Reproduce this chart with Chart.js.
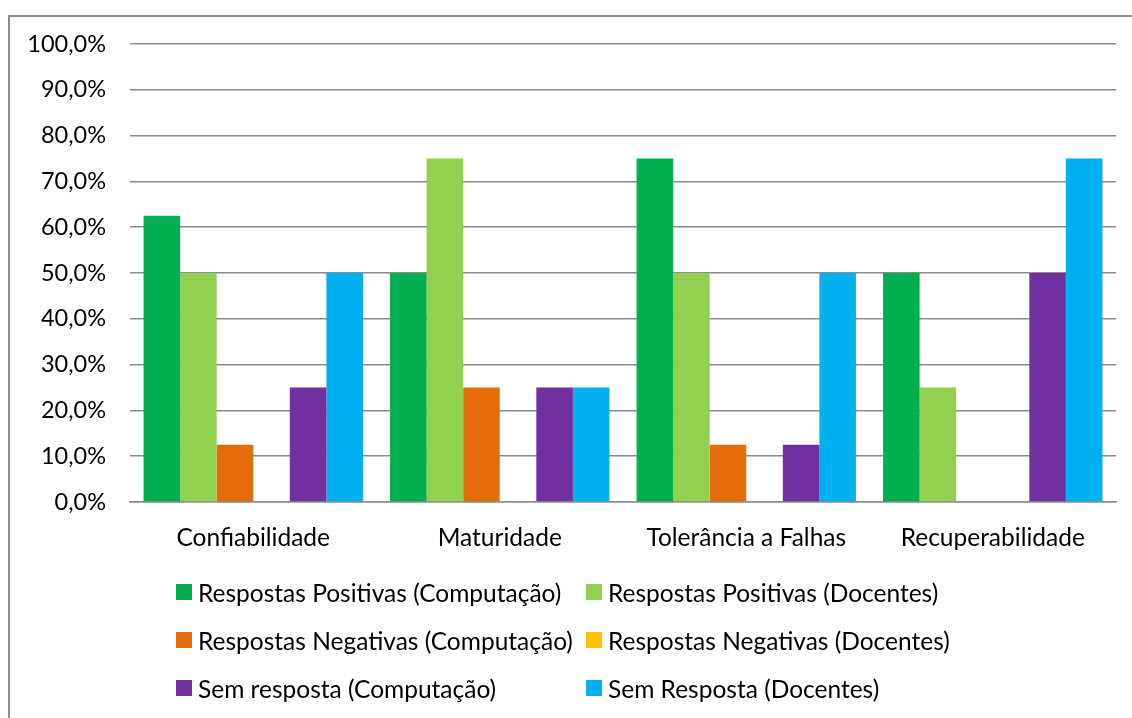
<!DOCTYPE html>
<html>
<head>
<meta charset="utf-8">
<script src="https://cdn.jsdelivr.net/npm/chart.js@4.4.0/dist/chart.umd.min.js"></script>
<style>
	html, body { margin: 0; padding: 0; background: #fff; overflow: hidden; }
	#wrap { position: relative; width: 1132px; height: 718px; overflow: hidden; }
	#frame { position: absolute; left: 8px; top: 15px; width: 1200px; height: 800px; border: 2px solid #8c8c8c; box-sizing: border-box; }
	#mycanvas { position: absolute; left: 0; top: 0; }
	#legend { position: absolute; left: 0; top: 0; font-family: Lato, "Open Sans", sans-serif; font-size: 24.5px; color: #000; }
	.item { position: absolute; white-space: nowrap; height: 30px; display: flex; align-items: center; }
	.box { display: inline-block; width: 16px; height: 16px; margin-right: 6px; }
</style>
</head>
<body>
<div id="wrap">
	<div id="frame"></div>
	<canvas id="mycanvas" width="1132" height="718"></canvas>
	<div id="legend"></div>
</div>
<script>
var categories = ['Confiabilidade', 'Maturidade', 'Tolerância a Falhas', 'Recuperabilidade'];
var seriesNames = [
	'Respostas Positivas (Computação)',
	'Respostas Positivas (Docentes)',
	'Respostas Negativas (Computação)',
	'Respostas Negativas (Docentes)',
	'Sem resposta (Computação)',
	'Sem Resposta (Docentes)'
];
var positivasComp = [62.5, 50, 75, 50];
var positivasDoc = [50, 75, 50, 25];
var negativasComp = [12.5, 25, 12.5, 0];
var negativasDoc = [0, 0, 0, 0];
var semRespComp = [25, 25, 12.5, 50];
var semRespDoc = [50, 25, 50, 75];
var colors = ['#00B050', '#92D050', '#E46C0A', '#FFC000', '#7030A0', '#00B0F0'];

var values = [positivasComp, positivasDoc, negativasComp, negativasDoc, semRespComp, semRespDoc];
var datasets = [];
for (var i in values) {
	datasets.push({
		label: seriesNames[i],
		backgroundColor: colors[i],
		borderWidth: 0,
		data: values[i]
	});
}

Chart.defaults.font.family = 'Lato, "Open Sans", sans-serif';
Chart.defaults.color = '#000';

var ctx = document.getElementById('mycanvas');
var barGraph = new Chart(ctx, {
	type: 'bar',
	data: { labels: categories, datasets: datasets },
	options: {
		responsive: false,
		animation: false,
		events: [],
		layout: { padding: { top: 44, right: 16, left: 0, bottom: 0 } },
		plugins: { legend: { display: false }, tooltip: { enabled: false } },
		datasets: { bar: { categoryPercentage: 0.89, barPercentage: 1 } },
		scales: {
			x: {
				grid: { display: false, drawTicks: false },
				border: { display: true, color: '#8c8c8c', width: 1.5 },
				ticks: { padding: 21, font: { size: 24.5 } },
				afterFit: function(scale) { scale.height = 216; }
			},
			y: {
				min: 0,
				max: 100,
				grid: { color: '#8c8c8c', lineWidth: 1.5, drawTicks: false },
				border: { display: false },
				ticks: {
					stepSize: 10,
					padding: 24,
					font: { size: 23.5 },
					callback: function(v) { return v.toFixed(1).replace('.', ',') + '%'; }
				},
				afterFit: function(scale) { scale.width = 130; }
			}
		}
	}
});

// legend in two columns
var legend = document.getElementById('legend');
var colX = [176, 586];
var rowY = [577, 625, 673];
barGraph.data.datasets.forEach(function(ds, i) {
	var el = document.createElement('div');
	el.className = 'item';
	el.style.left = colX[i % 2] + 'px';
	el.style.top = rowY[Math.floor(i / 2)] + 'px';
	el.innerHTML = '<span class="box" style="background:' + ds.backgroundColor + '"></span>' + ds.label;
	legend.appendChild(el);
});
</script>
</body>
</html>
